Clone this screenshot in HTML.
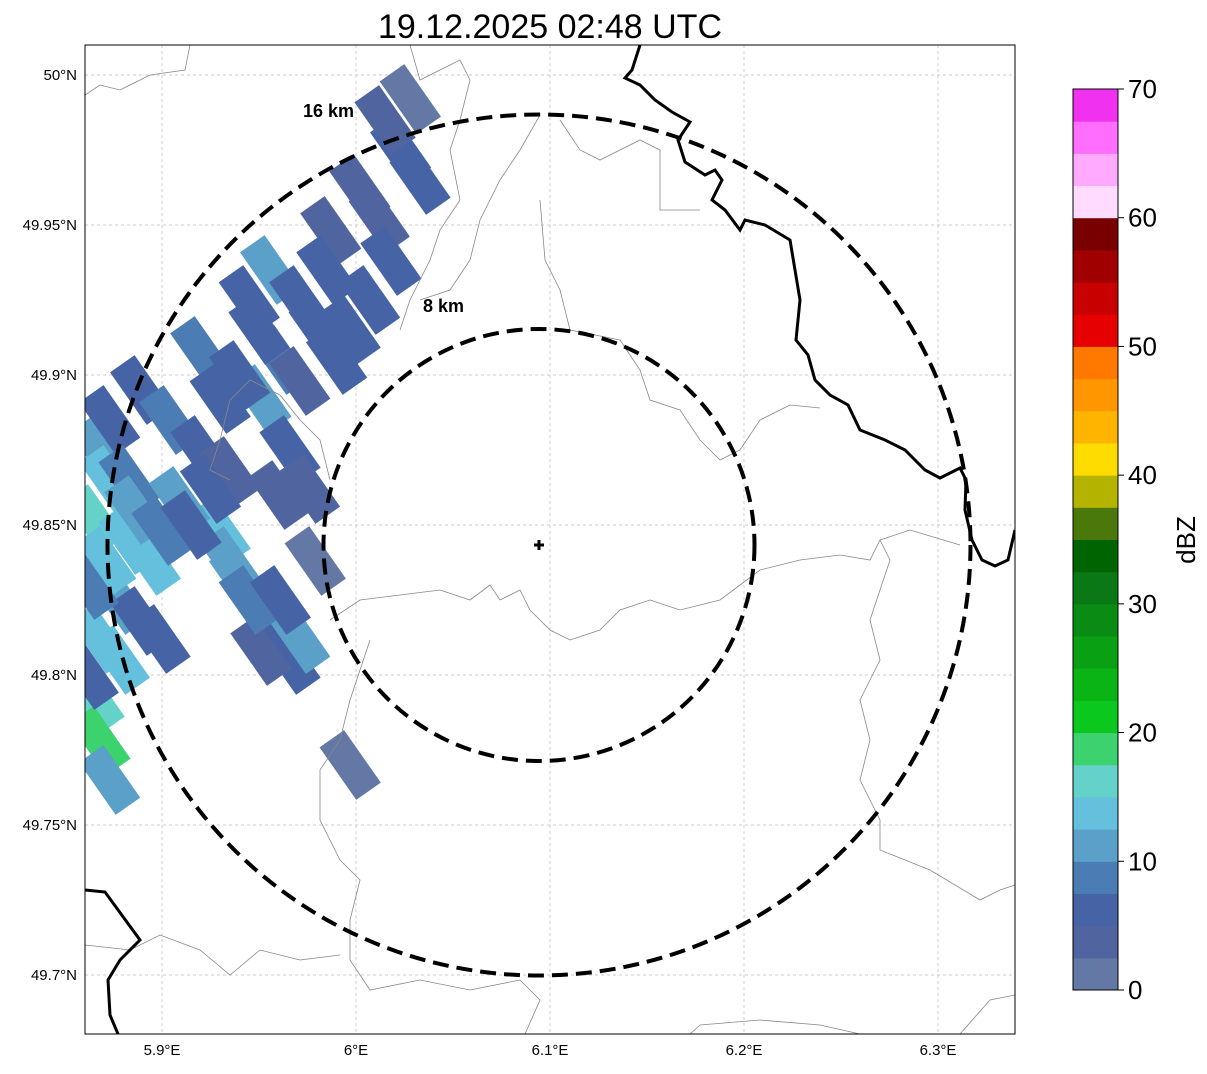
<!DOCTYPE html>
<html><head><meta charset="utf-8">
<style>
body{margin:0;background:#fff;font-family:"Liberation Sans",sans-serif;}
svg text{font-family:"Liberation Sans",sans-serif;}
</style></head>
<body>
<svg id="chart" width="1207" height="1069" viewBox="0 0 1207 1069">
<defs><clipPath id="ax"><rect x="85" y="45" width="930" height="989"/></clipPath></defs>
<text x="550" y="38" font-size="34" text-anchor="middle">19.12.2025 02:48 UTC</text>
<g id="grid"></g>
<g clip-path="url(#ax)">
<g id="cells"></g>
<g fill="none" stroke="#888" stroke-width="0.8">
<path d="M85,95 L100,85 L120,90 L150,75 L185,70 L190,45"/>
<path d="M410,45 L420,80 L460,60 L470,80 L460,120 L450,150 L460,200 L440,230 L430,260 L410,300 L400,330"/>
<path d="M540,115 L520,150 L500,180 L480,220 L470,260 L450,290 L420,300"/>
<path d="M560,120 L580,150 L600,160 L640,140 L660,150 L660,210 L700,210"/>
<path d="M540,200 L545,260 L560,290 L570,330 L620,340 L640,370 L650,400 L680,410 L700,440 L720,460 L740,450 L760,420 L790,405 L820,408"/>
<path d="M330,480 L320,440 L300,420 L280,395 L250,380 L230,400 L220,440 L210,470 L230,480"/>
<path d="M330,620 L360,600 L400,595 L440,590 L470,600 L490,585 L500,600 L520,590 L530,610 L550,630 L570,640 L600,630 L620,610 L650,600 L680,610 L720,600 L760,570 L800,560 L840,555 L870,560 L880,540 L910,530 L960,545"/>
<path d="M370,640 L360,670 L350,700 L340,740 L320,770 L320,820 L340,860 L360,880 L350,920 L350,960 L370,990 L420,980 L470,990 L520,980 L540,1000 L525,1034"/>
<path d="M880,540 L890,560 L880,590 L870,620 L880,660 L860,700 L870,740 L860,780 L880,820 L880,850 L930,870 L980,900 L1000,890 L1015,885"/>
<path d="M85,945 L130,950 L160,935 L200,950 L230,975 L260,950 L300,960 L340,955"/>
<path d="M690,1034 L700,1025 L760,1020 L820,1025 L860,1034"/>
<path d="M960,1034 L990,1000 L1015,995"/>
</g>
<g fill="none" stroke="#000" stroke-width="3">
<path d="M640,45 L632,70 L625,78 L640,85 L655,100 L672,112 L690,122 L678,140 L685,162 L705,175 L715,170 L722,180 L712,200 L725,210 L740,230 L745,220 L765,225 L790,240 L795,270 L800,300 L796,340 L808,355 L815,380 L830,395 L848,405 L860,430 L885,440 L905,450 L925,470 L940,478 L960,468 L966,480 L965,510 L972,540 L982,560 L995,566 L1008,560 L1015,530"/>
<path d="M85,890 L105,892 L140,940 L120,960 L108,980 L110,1015 L118,1034"/>
</g>
<g fill="none" stroke="#000" stroke-width="4" stroke-dasharray="16,8">
<ellipse cx="539" cy="545" rx="215.5" ry="216"/>
<ellipse cx="539" cy="545" rx="431.5" ry="430.5"/>
</g>
</g>
<text x="303" y="117" font-size="18" font-weight="bold">16 km</text>
<text x="423" y="312" font-size="18" font-weight="bold">8 km</text>
<path d="M539,540 V550 M534,545 H544" stroke="#000" stroke-width="3"/>
<rect x="85" y="45" width="930" height="989" fill="none" stroke="#000" stroke-width="1"/>
<g id="ticks" font-size="15"></g>
<g id="cbar"></g>
<text x="1195" y="540" font-size="26" text-anchor="middle" transform="rotate(-90 1195 540)">dBZ</text>
</svg>
<script>
const lonTicks=[5.9,6.0,6.1,6.2,6.3];
const lonLabels=["5.9°E","6°E","6.1°E","6.2°E","6.3°E"];
const latTicks=[50.0,49.95,49.9,49.85,49.8,49.75,49.7];
const latLabels=["50°N","49.95°N","49.9°N","49.85°N","49.8°N","49.75°N","49.7°N"];
const cellLon=[5.868,5.873,5.865,5.883,5.894,5.878,5.868,5.865,5.868,5.873,5.889,5.899,5.873,5.883,5.889,5.904,5.920,5.935,5.920,5.930,5.945,5.956,5.971,5.981,5.961,5.971,5.951,5.966,5.976,5.930,5.940,5.956,5.966,5.971,5.951,5.979,5.997,5.987,6.028,6.023,6.033,6.012,6.018,6.007,5.997,6.002,5.909,5.935,5.945,5.878,5.871,5.886,5.925,5.961,5.862,5.862,5.900,5.915,5.950,5.990,6.015,5.960,5.940,5.985];
const cellLat=[49.875,49.865,49.852,49.845,49.838,49.825,49.812,49.792,49.778,49.765,49.818,49.812,49.885,49.865,49.895,49.885,49.875,49.868,49.908,49.892,49.925,49.935,49.925,49.915,49.905,49.898,49.892,49.875,49.862,49.848,49.832,49.818,49.805,49.812,49.808,49.838,49.770,49.948,49.992,49.975,49.965,49.952,49.938,49.925,49.915,49.962,49.858,49.838,49.825,49.805,49.838,49.855,49.862,49.825,49.830,49.800,49.848,49.850,49.915,49.905,49.985,49.860,49.900,49.935];
const cellDbz=[12,13,15,13,13,10,14,17,18,11,7,5,7,8,5,8,6,4,9,7,7,12,5,6,8,4,11,5,3,13,10,7,5,11,3,2,2,4,2,5,6,4,5,7,6,3,11,12,8,13,14,11,7,6,8,6,9,6,5,6,3,4,7,5];
const cbColors=["#6478a5","#5064a0","#4664a5","#4b7db4","#5aa0c8","#64c0dc","#64d2c8","#3cd26e","#0ac81e","#0ab414","#0aa014","#0a8c14","#0a7814","#006400","#4a780a","#b4b400","#ffdc00","#ffb400","#ff9600","#ff7800","#e60000","#c80000","#a00000","#780000","#ffdcff","#ffaaff","#ff6eff","#f032f0"];
const cbTicks=[0,10,20,30,40,50,60,70];
const NS="http://www.w3.org/2000/svg";
const X=lon=>162+(lon-5.9)*1940;
const Y=lat=>75+(50.0-lat)*3000;
const CB=v=>990-(v/70)*901;
function mk(t,a){const e=document.createElementNS(NS,t);for(const k in a)e.setAttribute(k,a[k]);return e;}
const grid=document.getElementById('grid'),ticks=document.getElementById('ticks');
lonTicks.forEach((v,i)=>{
 const l=mk('line',{x1:X(v),x2:X(v),y1:45,y2:1034,stroke:'#bbb','stroke-width':0.7,'stroke-dasharray':'3,3'});
 
 
 grid.appendChild(l);
 const t=mk('text',{x:X(v),y:1055,'text-anchor':'middle'});t.textContent=lonLabels[i];
 
 
 ticks.appendChild(t);
});
latTicks.forEach((v,i)=>{
 const l=mk('line',{x1:85,x2:1015,y1:Y(v),y2:Y(v),stroke:'#bbb','stroke-width':0.7,'stroke-dasharray':'3,3'});
 
 
 grid.appendChild(l);
 const t=mk('text',{x:77,y:Y(v)+5,'text-anchor':'end'});t.textContent=latLabels[i];
 
 
 ticks.appendChild(t);
});
const colorFor=v=>cbColors[Math.max(0,Math.min(cbColors.length-1,Math.floor(v/2.5)))];
const cells=document.getElementById('cells');
cellLon.forEach((lo,i)=>{
 const cx=X(lo),cy=Y(cellLat[i]);
 const r=mk('rect',{x:cx-15,y:cy-32,width:30,height:64,fill:colorFor(cellDbz[i]),transform:`rotate(-35 ${cx} ${cy})`});
 
 
 cells.appendChild(r);
});
const cb=document.getElementById('cbar');
cbColors.forEach((c,i)=>{
 const y1=CB((i+1)*2.5),y0=CB(i*2.5);
 const r=mk('rect',{x:1073,y:y1,width:45,height:y0-y1+0.5,fill:c});
 
 
 cb.appendChild(r);
});
cb.appendChild(mk('rect',{x:1073,y:89,width:45,height:901,fill:'none',stroke:'#000','stroke-width':1}));
cbTicks.forEach(v=>{
 cb.appendChild(mk('line',{x1:1118,x2:1124,y1:CB(v),y2:CB(v),stroke:'#000'}));
 const t=mk('text',{x:1128,y:CB(v)+9,'font-size':26});t.textContent=v;
 
 
 cb.appendChild(t);
});
</script>
</body></html>
